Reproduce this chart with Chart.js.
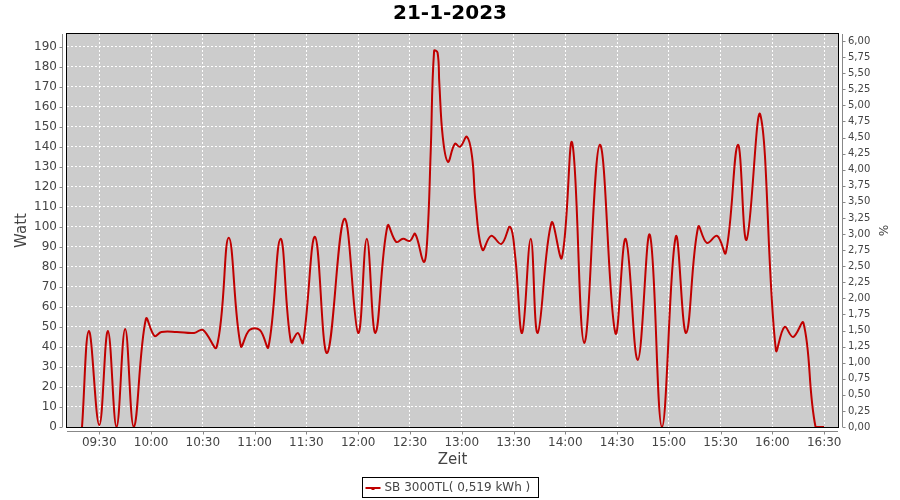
<!DOCTYPE html>
<html>
<head>
<meta charset="utf-8">
<title>21-1-2023</title>
<script src="https://cdn.jsdelivr.net/npm/chart.js@4.4.0/dist/chart.umd.min.js"></script>
<style>
  html, body { margin: 0; padding: 0; background: #fff; }
</style>
</head>
<body>
<canvas id="powerChart" width="900" height="500"></canvas>
<script>
// Readings (time of day, watt)
const times = [
    '09:20', '09:24', '09:30', '09:35', '09:40', '09:45', '09:50', '09:57', '10:02', '10:06',
    '10:15', '10:25', '10:30', '10:38', '10:45', '10:52', '10:57', '11:03', '11:08', '11:15',
    '11:21', '11:25', '11:28', '11:35', '11:42', '11:52', '12:00', '12:05', '12:10', '12:17',
    '12:22', '12:26', '12:30', '12:33', '12:38', '12:40', '12:42', '12:44', '12:46', '12:47',
    '12:49', '12:52', '12:56', '12:59', '13:03', '13:06', '13:08', '13:12', '13:17', '13:23',
    '13:28', '13:31', '13:35', '13:40', '13:44', '13:52', '13:58', '14:04', '14:11', '14:20',
    '14:29', '14:35', '14:42', '14:49', '14:56', '15:04', '15:10', '15:17', '15:22', '15:28',
    '15:33', '15:40', '15:45', '15:53', '16:02', '16:07', '16:12', '16:18', '16:25', '16:30'
];
const watts = [
    0, 48, 1, 48, 0, 49, 0, 54, 45.5, 47.5,
    47.5, 47, 48.5, 40, 94.5, 40.5, 48.5, 48.5, 40, 94,
    42.5, 47, 42, 95, 37, 104, 47, 94, 47, 100.5,
    92.5, 94, 93, 96.5, 82.5, 93.5, 137, 188, 187, 172,
    145, 132.5, 141.5, 140, 145, 135, 112, 88.5, 95.5, 91.5,
    100, 85, 47, 94, 47, 102, 84.5, 142, 42, 141,
    47, 94, 33.5, 96, 0, 95, 47, 100, 92, 95.5,
    87, 141, 93.5, 156, 38.5, 50, 45, 52, 0, 0
];
const seriesLabel = 'SB 3000TL( 0,519 kWh )';
const xTickLabels = ['09:30', '10:00', '10:30', '11:00', '11:30', '12:00', '12:30', '13:00',
    '13:30', '14:00', '14:30', '15:00', '15:30', '16:00', '16:30'];
const wattTicks = [0, 10, 20, 30, 40, 50, 60, 70, 80, 90, 100, 110, 120, 130, 140, 150, 160, 170, 180, 190];
const percentTicks = [0, 0.25, 0.5, 0.75, 1, 1.25, 1.5, 1.75, 2, 2.25, 2.5, 2.75, 3, 3.25, 3.5, 3.75,
    4, 4.25, 4.5, 4.75, 5, 5.25, 5.5, 5.75, 6];

const FONT = "'DejaVu Sans', sans-serif";
const LINE_COLOR = '#c00000';
const AXIS_GRAY = '#888888';

function toMinutes(hhmm) {
    const parts = hhmm.split(':');
    return parseInt(parts[0], 10) * 60 + parseInt(parts[1], 10);
}

function toClock(minutes) {
    const h = Math.floor(minutes / 60);
    const m = Math.round(minutes % 60);
    return String(h).padStart(2, '0') + ':' + String(m).padStart(2, '0');
}

// Grey background, black frame, offset axis lines and the boxed legend
const framePlugin = {
    id: 'frame',
    beforeDraw(chart) {
        const { ctx, chartArea: a } = chart;
        ctx.save();
        ctx.fillStyle = '#cccccc';
        ctx.fillRect(a.left, a.top, a.right - a.left, a.bottom - a.top);
        ctx.restore();
    },
    beforeDatasetsDraw(chart) {
        const { ctx, chartArea: a } = chart;
        ctx.save();
        ctx.strokeStyle = '#000';
        ctx.lineWidth = 1;
        ctx.strokeRect(a.left - 0.5, a.top - 0.5, a.right - a.left + 1, a.bottom - a.top + 1);
        ctx.restore();
    },
    afterDraw(chart) {
        const { ctx, chartArea: a, scales } = chart;
        ctx.save();
        ctx.strokeStyle = AXIS_GRAY;
        ctx.lineWidth = 1;
        ctx.beginPath();
        // left axis
        const lx = a.left - 4.5;
        ctx.moveTo(lx, a.top); ctx.lineTo(lx, a.bottom);
        scales.y.ticks.forEach(t => {
            const py = Math.round(scales.y.getPixelForValue(t.value)) + 0.5;
            ctx.moveTo(lx - 3, py); ctx.lineTo(lx, py);
        });
        // right axis
        const rx = a.right + 4.5;
        ctx.moveTo(rx, a.top); ctx.lineTo(rx, a.bottom);
        scales.y1.ticks.forEach(t => {
            const py = Math.round(scales.y1.getPixelForValue(t.value)) + 0.5;
            ctx.moveTo(rx, py); ctx.lineTo(rx + 3, py);
        });
        // bottom axis
        const by = a.bottom + 4.5;
        ctx.moveTo(a.left, by); ctx.lineTo(a.right, by);
        scales.x.ticks.forEach(t => {
            const px = Math.round(scales.x.getPixelForValue(t.value)) + 0.5;
            ctx.moveTo(px, by); ctx.lineTo(px, by + 3);
        });
        ctx.stroke();

        // legend
        ctx.font = '12px ' + FONT;
        const tw = ctx.measureText(seriesLabel).width;
        const boxW = Math.round(tw + 30);
        const boxX = Math.round(450 - boxW / 2) + 0.5;
        const boxY = 477.5;
        ctx.strokeStyle = '#000';
        ctx.strokeRect(boxX, boxY, boxW, 20);
        ctx.strokeStyle = LINE_COLOR;
        ctx.lineWidth = 2;
        ctx.beginPath();
        ctx.moveTo(boxX + 3, 488); ctx.lineTo(boxX + 18, 488);
        ctx.stroke();
        ctx.fillStyle = LINE_COLOR;
        ctx.fillRect(boxX + 9, 487, 3, 3);
        ctx.fillStyle = '#444';
        ctx.textBaseline = 'middle';
        ctx.fillText(seriesLabel, boxX + 22, 488);
        ctx.restore();
    }
};

const ctx = document.getElementById('powerChart').getContext('2d');
const powerChart = new Chart(ctx, {
    type: 'line',
    data: {
        datasets: [{
            label: seriesLabel,
            data: times.map((t, i) => ({ x: toMinutes(t), y: watts[i] })),
            borderColor: LINE_COLOR,
            borderWidth: 2,
            pointRadius: 0,
            fill: false,
            tension: 0.4,
            yAxisID: 'y'
        }]
    },
    options: {
        responsive: false,
        animation: false,
        devicePixelRatio: 1,
        layout: { padding: { left: 0, right: 0, top: 0, bottom: 26 } },
        plugins: {
            legend: { display: false },
            tooltip: { enabled: false },
            title: {
                display: true,
                text: '21-1-2023',
                color: '#000',
                font: { family: FONT, size: 20, weight: 'bold' },
                padding: { top: 2, bottom: 8 }
            }
        },
        scales: {
            x: {
                type: 'linear',
                min: 551.3,
                max: 998,
                afterBuildTicks: axis => { axis.ticks = xTickLabels.map(l => ({ value: toMinutes(l) })); },
                afterFit: scale => { scale.height = 47; },
                grid: { color: '#ffffff', lineWidth: 1, tickColor: 'rgba(0,0,0,0)', tickLength: 4 },
                border: { display: false, dash: [2, 2] },
                ticks: {
                    callback: value => toClock(value),
                    font: { family: FONT, size: 12 },
                    color: '#444',
                    padding: 5,
                    maxRotation: 0,
                    autoSkip: false
                },
                title: {
                    display: true,
                    text: 'Zeit',
                    color: '#444',
                    font: { family: FONT, size: 15 },
                    padding: { top: 0, bottom: 5 }
                }
            },
            y: {
                position: 'left',
                min: 0,
                max: 196.35,
                afterBuildTicks: axis => { axis.ticks = wattTicks.map(v => ({ value: v })); },
                afterFit: scale => { scale.width = 67; },
                grid: { color: '#ffffff', lineWidth: 1, tickColor: 'rgba(0,0,0,0)', tickLength: 4 },
                border: { display: false, dash: [2, 2] },
                ticks: {
                    font: { family: FONT, size: 12 },
                    color: '#444',
                    padding: 6,
                    autoSkip: false
                },
                title: {
                    display: true,
                    text: 'Watt',
                    color: '#444',
                    font: { family: FONT, size: 15 },
                    padding: { top: 13, bottom: 0 }
                }
            },
            y1: {
                position: 'right',
                min: 0,
                max: 6.11,
                afterBuildTicks: axis => { axis.ticks = percentTicks.map(v => ({ value: v })); },
                afterFit: scale => { scale.width = 62; },
                grid: { display: false, tickLength: 4 },
                border: { display: false },
                ticks: {
                    callback: value => value.toFixed(2).replace('.', ','),
                    font: { family: FONT, size: 10 },
                    color: '#444',
                    padding: 6,
                    autoSkip: false
                },
                title: {
                    display: true,
                    text: '%',
                    color: '#444',
                    font: { family: FONT, size: 12 },
                    padding: { top: 11, bottom: 0 }
                }
            }
        }
    },
    plugins: [framePlugin]
});
</script>
</body>
</html>
